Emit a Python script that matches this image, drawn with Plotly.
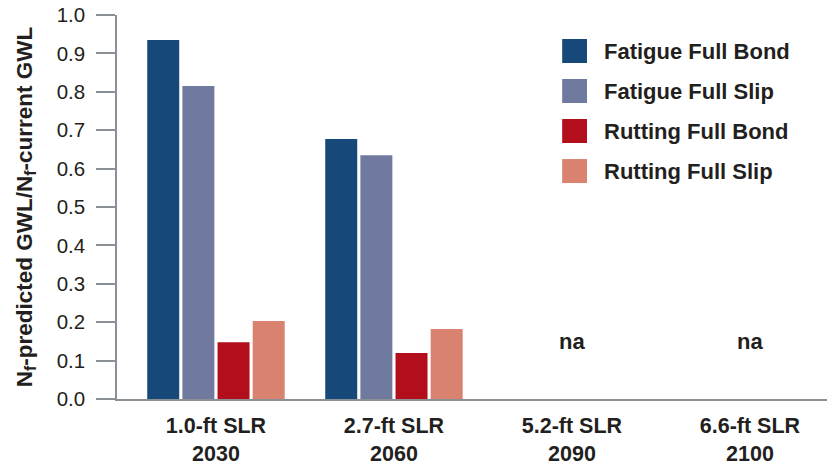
import plotly.graph_objects as go

categories = ["1.0-ft SLR<br>2030", "2.7-ft SLR<br>2060", "5.2-ft SLR<br>2090", "6.6-ft SLR<br>2100"]
series_names = ["Fatigue Full Bond", "Fatigue Full Slip", "Rutting Full Bond", "Rutting Full Slip"]
fatigue_full_bond = [0.935, 0.677, None, None]
fatigue_full_slip = [0.815, 0.635, None, None]
rutting_full_bond = [0.148, 0.120, None, None]
rutting_full_slip = [0.203, 0.182, None, None]
na_label = "na"
y_ticks = [0.0, 0.1, 0.2, 0.3, 0.4, 0.5, 0.6, 0.7, 0.8, 0.9, 1.0]

colors = ["#16497A", "#707A9F", "#B30E1C", "#D8826F"]
TEXT = "#231F20"
AXIS = "#8A9096"
FONT = "Liberation Sans"

series_values = [fatigue_full_bond, fatigue_full_slip, rutting_full_bond, rutting_full_slip]

fig = go.Figure()
for name, vals, col in zip(series_names, series_values, colors):
    fig.add_trace(go.Bar(x=categories, y=vals, name=name, marker_color=col,
                         marker_line_width=0, showlegend=False))

# "na" labels for categories without data
for i, cat in enumerate(categories):
    if all(v[i] is None for v in series_values):
        fig.add_annotation(x=cat, y=0.15, xref="x", yref="y", text=na_label,
                           showarrow=False, yanchor="middle",
                           font=dict(family=FONT, size=22, color=TEXT, weight="bold"))

# manual legend with large square swatches
x0_sw, x1_sw, x_txt = 0.627, 0.662, 0.683
top, row_h, sw_h = 0.9375, 0.1042, 0.0625
for k, (name, col) in enumerate(zip(series_names, colors)):
    yt = top - k * row_h
    fig.add_shape(type="rect", xref="paper", yref="paper", x0=x0_sw, x1=x1_sw,
                  y0=yt - sw_h, y1=yt, fillcolor=col, line_width=0)
    fig.add_annotation(xref="paper", yref="paper", x=x_txt, y=yt - sw_h / 2,
                       text=name, showarrow=False,
                       xanchor="left", yanchor="middle",
                       font=dict(family=FONT, size=22, color=TEXT, weight="bold"))

fig.update_layout(
    width=834, height=466,
    margin=dict(l=117, r=7, t=15, b=67, autoexpand=False),
    paper_bgcolor="white", plot_bgcolor="white",
    barmode="group", bargap=0.21, bargroupgap=0.09,
    showlegend=False,
    font=dict(family=FONT, color=TEXT),
)
fig.update_xaxes(
    type="category", range=[-0.556, 3.433],
    showline=True, linecolor=AXIS, linewidth=1.5,
    ticks="", showgrid=False, zeroline=False,
    tickfont=dict(family=FONT, size=21.5, color=TEXT, weight="bold"),
    ticklabelstandoff=6,
)
fig.update_yaxes(
    range=[0, 1.0], tickvals=y_ticks, tickformat=".1f",
    showline=True, linecolor=AXIS, linewidth=1.5,
    ticks="outside", ticklen=19, tickcolor=AXIS, tickwidth=1.5,
    showgrid=False, zeroline=False,
    tickfont=dict(family=FONT, size=20.5, color=TEXT),
    ticklabelstandoff=7,
    title=dict(text="N<sub>f</sub>-predicted GWL/N<sub>f</sub>-current GWL",
               font=dict(family=FONT, size=22.5, color=TEXT, weight="bold"), standoff=18),
)

fig.write_html("out.html", config={"displayModeBar": False},
               post_script="document.body.style.margin='0';")
